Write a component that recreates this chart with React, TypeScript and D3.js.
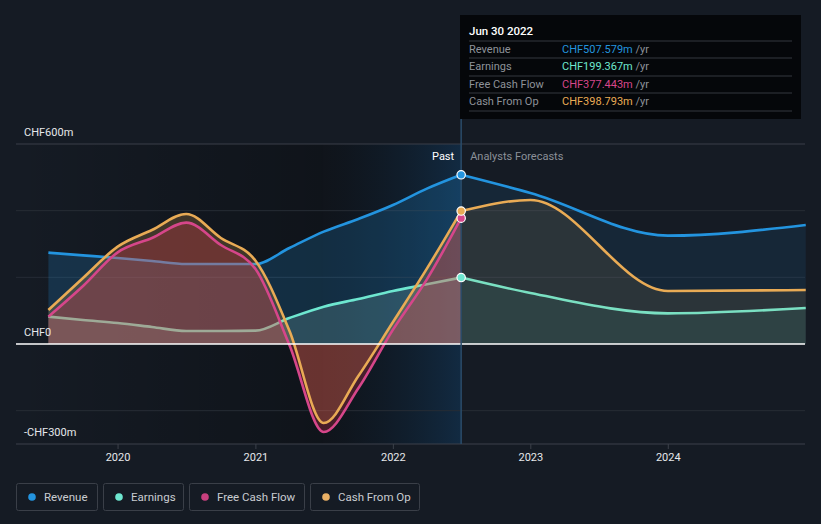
import React from "react";
import * as d3 from "d3";

const pastDates = [
  "2019-06-30", "2019-09-30", "2019-12-31", "2020-03-31", "2020-06-30", "2020-09-30",
  "2020-12-31", "2021-03-31", "2021-06-30", "2021-09-30", "2021-12-31", "2022-03-31", "2022-06-30",
];
const forecastDates = ["2022-06-30", "2022-12-31", "2023-12-31", "2024-12-31"];

const revenuePast = [274, 266, 258, 249, 240, 240, 240, 288, 337, 375, 417, 466, 507.579];
const earningsPast = [82, 72, 63, 51, 39, 39, 40, 78, 112, 135, 159, 179, 199.367];
const fcfPast = [82, 174, 275, 318, 364, 297, 225, -3, -264, -133, 43, 194, 377.443];
const cfoPast = [102, 198, 292, 342, 390, 318, 250, 40, -237, -96, 66, 226, 398.793];

const revenueFc = [507.579, 453, 325, 357];
const earningsFc = [199.367, 153, 92, 108];
const cfoFc = [398.793, 432, 159, 162];

const xTickYears = [2020, 2021, 2022, 2023, 2024];
const yGridValues = [600, 400, 200, -200];
const yLabelValues = [600, 0, -300];
const yLabels = ["CHF600m", "CHF0", "-CHF300m"];

const tooltipTitle = "Jun 30 2022";
const seriesNames = ["Revenue", "Earnings", "Free Cash Flow", "Cash From Op"];
const tooltipValues = ["CHF507.579m", "CHF199.367m", "CHF377.443m", "CHF398.793m"];
const seriesColors = ["#2394df", "#6ee7d0", "#d6468a", "#e9ab55"];
const legendDotColors = ["#2394df", "#6ee7d0", "#c8407e", "#e9b065"];

type Pt = { d: Date; v: number };
const parse = (s: string) => new Date(s + "T00:00:00");
const mk = (dates: string[], vals: number[]): Pt[] => dates.map((d, i) => ({ d: parse(d), v: vals[i] }));

export default function App() {
  const W = 821, H = 524;
  const x = d3.scaleTime().domain([new Date(2019, 3, 5), new Date(2024, 11, 29)]).range([16, 805]);
  const y = d3.scaleLinear().domain([-300, 600]).range([444, 144]);

  const line = d3.line<Pt>().x((p) => x(p.d)).y((p) => y(p.v)).curve(d3.curveMonotoneX);
  const area = d3.area<Pt>().x((p) => x(p.d)).y0(y(0)).y1((p) => y(p.v)).curve(d3.curveMonotoneX);

  const rev = mk(pastDates, revenuePast);
  const ear = mk(pastDates, earningsPast);
  const fcf = mk(pastDates, fcfPast);
  const cfo = mk(pastDates, cfoPast);
  const revF = mk(forecastDates, revenueFc);
  const earF = mk(forecastDates, earningsFc);
  const cfoF = mk(forecastDates, cfoFc);

  const nowX = x(parse("2022-06-30"));
  const bandX = x(parse("2021-06-30"));
  const left = 16, right = 805, top = 144, bottom = 444;

  const legendBoxes = [
    { x: 16, w: 81 },
    { x: 103, w: 80 },
    { x: 189, w: 115 },
    { x: 310, w: 109 },
  ];

  const font = "Roboto, 'Noto Sans', sans-serif";

  return (
    <svg width={W} height={H} style={{ position: "absolute", left: 0, top: 0, display: "block" }} fontFamily={font}>
      <defs>
        <linearGradient id="pastDark" x1="0" x2="1" y1="0" y2="0">
          <stop offset="0" stopColor="#000" stopOpacity={0} />
          <stop offset="1" stopColor="#000" stopOpacity={0.28} />
        </linearGradient>
        <linearGradient id="band" x1="0" x2="1" y1="0" y2="0">
          <stop offset="0" stopColor="#000" stopOpacity={0.25} />
          <stop offset="1" stopColor="#0f3a60" stopOpacity={0.5} />
        </linearGradient>
      </defs>
      <rect x={0} y={0} width={W} height={H} fill="#151b24" />
      <rect x={left} y={top} width={bandX - left} height={bottom - top} fill="url(#pastDark)" />
      <rect x={bandX} y={top} width={nowX - bandX} height={bottom - top} fill="url(#band)" />

      {yGridValues.map((v) => (
        <line key={v} x1={left} x2={right} y1={y(v)} y2={y(v)} stroke={v === 600 ? "#3a3f48" : "#262c35"} strokeWidth={1} />
      ))}
      <line x1={left} x2={right} y1={bottom} y2={bottom} stroke="#3c414a" strokeWidth={1.2} />
      {xTickYears.map((yr) => {
        const tx = x(new Date(yr, 0, 1));
        return (
          <g key={yr}>
            <line x1={tx} x2={tx} y1={bottom} y2={bottom + 5} stroke="#3c414a" />
            <text x={tx} y={461} textAnchor="middle" fontSize={11} fill="#e6e8eb">{yr}</text>
          </g>
        );
      })}

      {/* areas */}
      <path d={area(rev) || ""} fill="#2394df" fillOpacity={0.2} />
      <path d={area(revF) || ""} fill="#2394df" fillOpacity={0.1} />
      <path d={area(ear) || ""} fill="#9fe0d0" fillOpacity={0.18} />
      <path d={area(earF) || ""} fill="#3cc8b4" fillOpacity={0.1} />
      <path d={line(rev) || ""} fill="none" stroke={seriesColors[0]} strokeWidth={2.6} />
      <path d={line(revF) || ""} fill="none" stroke={seriesColors[0]} strokeWidth={2.6} />
      <path d={line(ear) || ""} fill="none" stroke={seriesColors[1]} strokeWidth={2.6} />
      <path d={line(earF) || ""} fill="none" stroke={seriesColors[1]} strokeWidth={2.6} />
      <path d={area(cfo) || ""} fill="#e8a94f" fillOpacity={0.22} />
      <path d={area(cfoF) || ""} fill="#e8a94f" fillOpacity={0.1} />
      <path d={area(fcf) || ""} fill="#d8344e" fillOpacity={0.28} />
      <path d={line(cfo) || ""} fill="none" stroke={seriesColors[3]} strokeWidth={2.6} />
      <path d={line(cfoF) || ""} fill="none" stroke={seriesColors[3]} strokeWidth={2.6} />
      <path d={line(fcf) || ""} fill="none" stroke={seriesColors[2]} strokeWidth={2.6} />

      <line x1={left} x2={right} y1={y(0)} y2={y(0)} stroke="#ffffff" strokeWidth={1.3} />

      {/* now line */}
      <line x1={nowX} x2={nowX} y1={15} y2={bottom} stroke="#2a4c6a" strokeWidth={1.5} />

      {/* y labels */}
      {yLabelValues.map((v, i) => (
        <text key={v} x={24} y={y(v) - 8} fontSize={11} fill="#e6e8eb">{yLabels[i]}</text>
      ))}

      <text x={nowX - 7} y={160} textAnchor="end" fontSize={11} fill="#ffffff">Past</text>
      <text x={nowX + 9} y={160} fontSize={11} fill="#8b9098">Analysts Forecasts</text>

      {/* markers */}
      {[
        { v: revenuePast[12], c: seriesColors[0] },
        { v: earningsPast[12], c: seriesColors[1] },
        { v: fcfPast[12], c: seriesColors[2] },
        { v: cfoPast[12], c: seriesColors[3] },
      ].map((m, i) => (
        <circle key={i} cx={nowX} cy={y(m.v)} r={4.2} fill={m.c} stroke="#ffffff" strokeWidth={1.2} />
      ))}

      {/* tooltip */}
      <rect x={460} y={15} width={341} height={104} fill="#05070a" />
      <text x={469} y={35} fontSize={11.5} fill="#ffffff" fontWeight={500}>{tooltipTitle}</text>
      {[41, 58, 76, 93, 111].map((ly) => (
        <line key={ly} x1={469} x2={792} y1={ly} y2={ly} stroke="#34383e" strokeWidth={1} />
      ))}
      {seriesNames.map((n, i) => (
        <g key={n}>
          <text x={469} y={53 + i * 17.4} fontSize={11} fill="#8e9299">{n}</text>
          <text x={562} y={53 + i * 17.4} fontSize={11} fill={seriesColors[i]}>
            {tooltipValues[i]}
            <tspan fill="#8e9299"> /yr</tspan>
          </text>
        </g>
      ))}

      {/* legend */}
      {legendBoxes.map((b, i) => (
        <g key={i}>
          <rect x={b.x + 0.5} y={483.5} width={b.w} height={27} rx={2} fill="none" stroke="#3a3f48" />
          <circle cx={b.x + 16} cy={497} r={3.8} fill={legendDotColors[i]} />
          <text x={b.x + 28} y={501} fontSize={11.5} fill="#c9ccd1">{seriesNames[i]}</text>
        </g>
      ))}
    </svg>
  );
}
